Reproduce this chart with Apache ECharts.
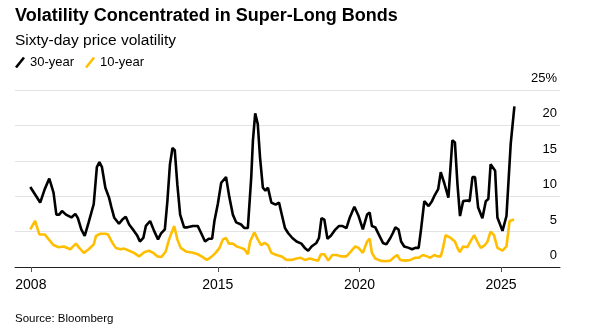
<!DOCTYPE html>
<html>
<head>
<meta charset="utf-8">
<script src="https://cdn.jsdelivr.net/npm/echarts@6/dist/echarts.min.js"></script>
<style>
html,body{margin:0;padding:0;background:#fff;}
#chart{width:607px;height:335px;}
</style>
</head>
<body>
<div id="chart"></div>
<script>
// decimal-year positions and values (%)
var years30 = [2008.38,2008.73,2008.89,2009.05,2009.20,2009.30,2009.40,2009.50,2009.64,2009.83,2009.97,2010.06,2010.18,2010.30,2010.44,2010.62,2010.73,2010.82,2010.91,2011.03,2011.16,2011.24,2011.34,2011.51,2011.63,2011.75,2011.87,2012.04,2012.16,2012.25,2012.37,2012.46,2012.61,2012.75,2012.89,2012.99,2013.13,2013.22,2013.31,2013.40,2013.48,2013.57,2013.67,2013.81,2013.93,2014.12,2014.29,2014.41,2014.55,2014.68,2014.80,2014.88,2015.00,2015.12,2015.29,2015.41,2015.53,2015.65,2015.82,2015.94,2016.06,2016.18,2016.24,2016.32,2016.41,2016.49,2016.59,2016.68,2016.77,2016.89,2017.04,2017.16,2017.27,2017.37,2017.48,2017.63,2017.78,2017.95,2018.07,2018.19,2018.31,2018.48,2018.57,2018.66,2018.76,2018.87,2018.99,2019.13,2019.28,2019.39,2019.54,2019.66,2019.82,2019.97,2020.12,2020.27,2020.36,2020.44,2020.56,2020.68,2020.83,2020.95,2021.09,2021.18,2021.27,2021.38,2021.47,2021.58,2021.74,2021.86,2021.97,2022.09,2022.18,2022.29,2022.44,2022.56,2022.64,2022.78,2022.87,2022.99,2023.14,2023.28,2023.37,2023.46,2023.55,2023.66,2023.81,2023.89,2023.99,2024.08,2024.19,2024.34,2024.46,2024.55,2024.63,2024.79,2024.87,2025.05,2025.19,2025.34,2025.47];
var vol30 = [11.3,9.1,11.0,12.5,10.5,7.4,7.4,7.9,7.4,7.0,7.5,6.9,5.3,4.4,6.3,8.9,14.1,14.8,14.1,11.2,9.8,8.5,7.0,6.1,6.7,7.1,6.0,5.1,4.4,3.6,4.1,5.8,6.5,5.1,3.9,4.7,5.3,9.3,14.5,16.8,16.5,11.7,7.4,5.6,5.6,5.8,5.8,4.8,3.6,4.0,4.0,6.5,8.9,11.9,12.7,9.8,7.4,6.3,6.0,5.5,5.5,12.7,17.9,21.7,20.2,15.5,11.2,10.8,11.2,9.1,8.8,9.1,7.2,5.5,4.8,4.1,3.6,3.3,2.7,2.3,2.9,3.4,4.1,6.9,6.7,4.0,4.4,5.2,5.8,5.8,5.5,7.0,8.5,7.2,5.3,7.4,7.7,5.8,5.6,4.6,3.4,3.2,4.1,4.8,5.6,5.3,3.6,2.9,2.7,2.5,2.7,2.7,5.5,9.3,8.6,9.3,10.0,11.0,13.4,11.9,9.8,17.9,17.6,11.7,7.2,9.3,9.4,9.3,12.7,12.7,8.4,6.9,9.3,9.6,14.5,13.6,7.0,5.1,7.2,17.4,22.7];

var years10 = [2008.38,2008.55,2008.70,2008.89,2009.03,2009.20,2009.38,2009.56,2009.79,2009.99,2010.11,2010.27,2010.44,2010.62,2010.70,2010.85,2011.03,2011.12,2011.28,2011.40,2011.57,2011.69,2011.87,2012.04,2012.22,2012.40,2012.57,2012.72,2012.87,2013.01,2013.16,2013.28,2013.46,2013.57,2013.69,2013.87,2014.12,2014.29,2014.47,2014.61,2014.76,2014.92,2015.06,2015.18,2015.29,2015.39,2015.53,2015.67,2015.82,2015.94,2016.06,2016.14,2016.29,2016.41,2016.53,2016.65,2016.77,2016.89,2017.07,2017.25,2017.42,2017.60,2017.78,2017.93,2018.07,2018.25,2018.43,2018.54,2018.64,2018.76,2018.90,2019.04,2019.19,2019.37,2019.54,2019.70,2019.85,2019.97,2020.12,2020.27,2020.36,2020.44,2020.56,2020.73,2020.91,2021.09,2021.20,2021.33,2021.44,2021.62,2021.80,2021.97,2022.09,2022.24,2022.39,2022.50,2022.64,2022.75,2022.87,2022.95,2023.04,2023.22,2023.37,2023.46,2023.54,2023.66,2023.81,2023.93,2024.05,2024.16,2024.28,2024.43,2024.52,2024.63,2024.75,2024.87,2025.05,2025.19,2025.30,2025.46];
var vol10 = [5.3,6.5,4.6,4.6,3.9,3.1,2.8,2.9,2.5,3.3,2.7,2.0,2.5,3.2,4.4,4.7,4.7,4.6,3.4,2.7,2.5,2.6,2.3,2.0,1.5,2.1,2.3,2.0,1.5,1.4,2.2,3.9,5.8,3.9,2.7,2.2,2.0,1.8,1.4,1.0,1.4,2.0,2.7,3.9,4.1,3.3,3.3,2.9,2.7,2.5,1.8,3.6,4.9,3.9,3.1,3.4,3.1,2.0,1.7,1.5,1.0,1.0,1.2,1.3,1.0,1.2,1.0,0.9,1.8,1.8,0.9,1.7,1.7,1.5,1.5,2.2,2.9,2.7,2.0,3.6,4.0,2.0,1.2,0.9,0.8,0.9,1.3,1.7,1.0,0.9,1.0,1.3,1.3,1.7,1.5,1.3,1.7,1.5,1.5,2.7,4.5,4.1,3.6,2.7,2.1,2.9,2.8,3.7,4.5,3.6,2.7,3.1,3.6,5.0,4.5,2.7,2.3,2.9,6.5,6.7];

var xTickYears = [2008.4, 2015, 2020, 2025];
var xTickLabels = ['2008', '2015', '2020', '2025'];
var yTicks = [0, 5, 10, 15, 20, 25];

function pairs(xs, ys){ return xs.map(function(x,i){ return [x, ys[i]]; }); }

var FONT = "'Liberation Sans', Arial, Helvetica, sans-serif";
var chart = echarts.init(document.getElementById('chart'), null, {renderer:'canvas'});
chart.setOption({
  animation: false,
  backgroundColor: '#fff',
  textStyle: {fontFamily: FONT},
  title: [
    {text: 'Volatility Concentrated in Super-Long Bonds', left: 15, top: 7, padding: 0,
     textStyle: {fontSize: 18, fontWeight: 'bold', color: '#000', fontFamily: FONT}},
    {text: 'Sixty-day price volatility', left: 15, top: 33, padding: 0,
     textStyle: {fontSize: 15.5, fontWeight: 'normal', color: '#000', fontFamily: FONT}},
    {text: 'Source: Bloomberg', left: 15, top: 313, padding: 0,
     textStyle: {fontSize: 11.5, fontWeight: 'normal', color: '#000', fontFamily: FONT}}
  ],
  legend: {
    left: 15, top: 56, padding: 0,
    itemWidth: 10, itemHeight: 12, itemGap: 11,
    icon: 'path://M0,10 L8,0 L10,1.6 L2,11.6 Z',
    textStyle: {fontSize: 13, color: '#000', fontFamily: FONT},
    data: ['30-year', '10-year']
  },
  grid: {left: 15, right: 47, top: 90, bottom: 68, containLabel: false},
  xAxis: {
    type: 'value', min: 2007.84, max: 2027.08,
    splitLine: {show: false},
    axisLine: {show: true, lineStyle: {color: '#222', width: 1}},
    axisTick: {show: true, length: 5, lineStyle: {color: '#555'}, customValues: xTickYears},
    axisLabel: {
      customValues: xTickYears, fontSize: 14, color: '#000', margin: 11, fontFamily: FONT,
      formatter: function(v){ var i = xTickYears.indexOf(v); return i >= 0 ? xTickLabels[i] : ''; }
    }
  },
  yAxis: {
    type: 'value', min: 0, max: 25, interval: 5, position: 'right',
    axisLine: {show: false}, axisTick: {show: false},
    splitLine: {lineStyle: {color: '#e3e3e3', width: 1}},
    axisLabel: {
      inside: true, margin: 3, fontSize: 13, color: '#000', fontFamily: FONT,
      verticalAlign: 'bottom', padding: [0,0,5,0],
      formatter: function(v){ return v === 25 ? '25%' : String(v); }
    }
  },
  series: [
    {name: '30-year', type: 'line', data: pairs(years30, vol30), showSymbol: false, symbol: 'none',
     lineStyle: {color: '#000', width: 2.6}, itemStyle: {color: '#000'}, z: 3},
    {name: '10-year', type: 'line', data: pairs(years10, vol10), showSymbol: false, symbol: 'none',
     lineStyle: {color: '#FFBF00', width: 2.6}, itemStyle: {color: '#FFBF00'}, z: 2}
  ]
});
</script>
</body>
</html>
